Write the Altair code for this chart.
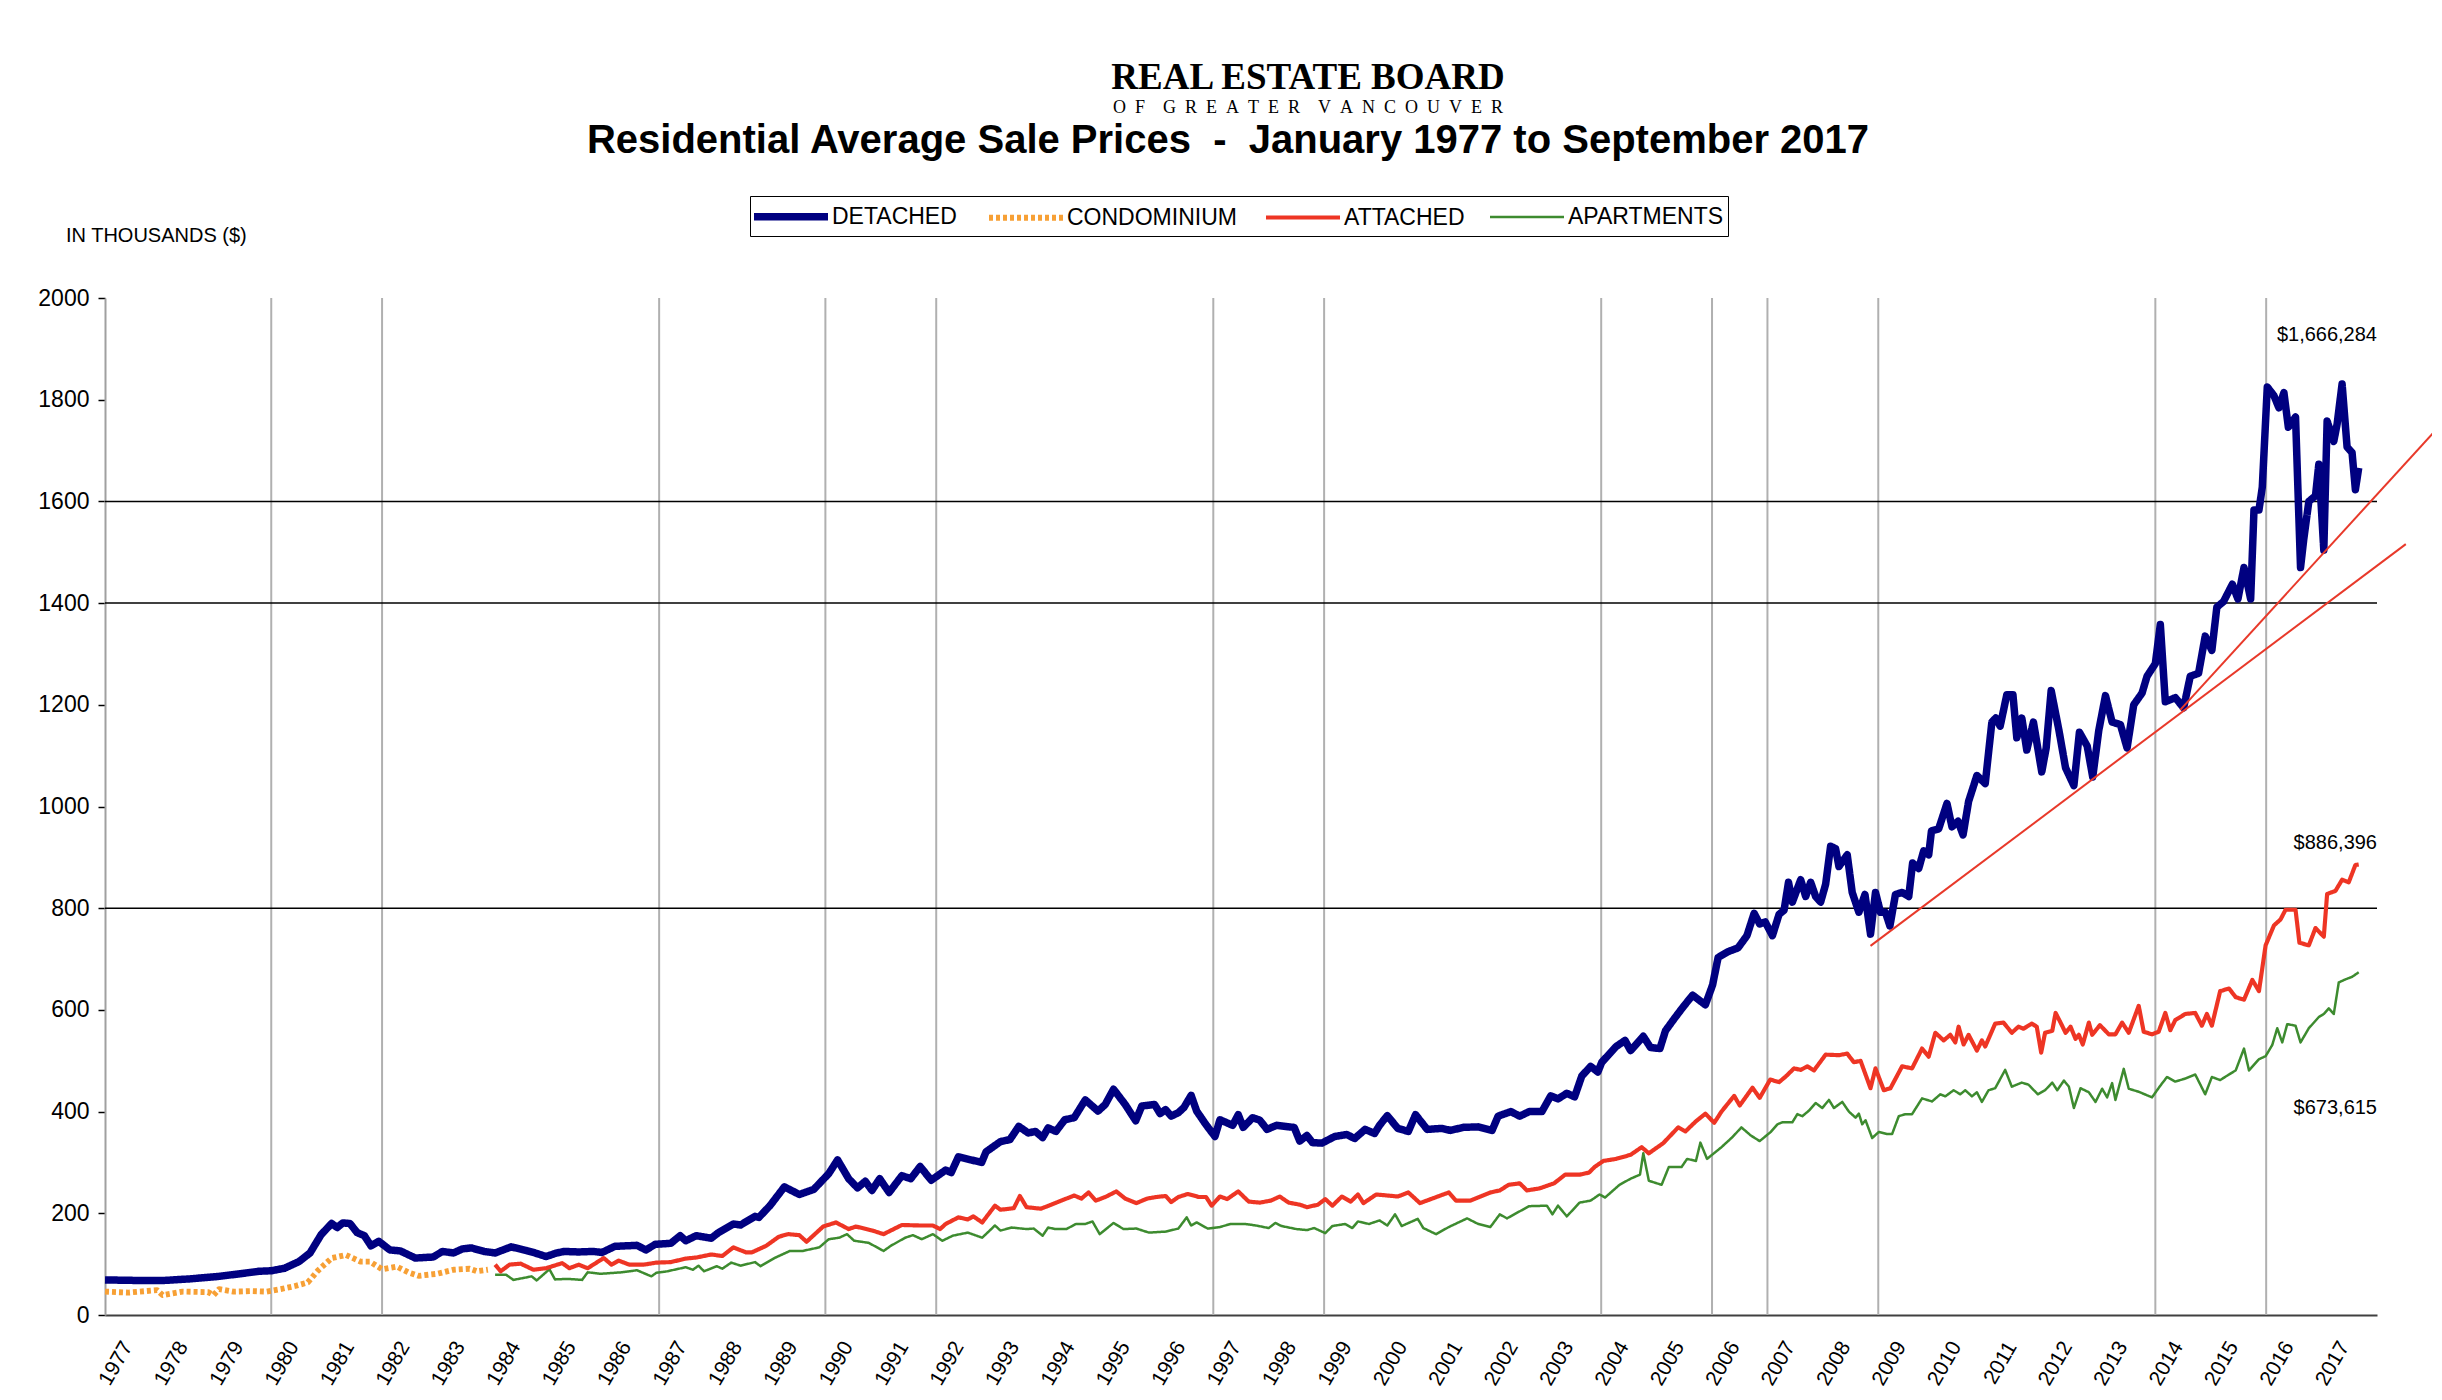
import altair as alt
import pandas as pd

# ---------------- data (thousands of $) ----------------
SERIES = ["DETACHED", "CONDOMINIUM", "ATTACHED", "APARTMENTS"]
COLORS = ["#000080", "#f7a035", "#ee3524", "#3d8b2f"]

DETACHED = [
    (1977.0, 69), (1977.55, 68), (1978.07, 68), (1978.53, 71), (1979.06, 76), (1979.5, 82),
    (1979.78, 86), (1980.0, 87), (1980.24, 92), (1980.5, 105), (1980.7, 122), (1980.9, 158),
    (1981.09, 180), (1981.19, 172), (1981.29, 181), (1981.42, 180), (1981.55, 162), (1981.68, 156),
    (1981.8, 136), (1981.94, 145), (1982.14, 128), (1982.33, 126), (1982.6, 112), (1982.92, 114),
    (1983.09, 125), (1983.29, 122), (1983.45, 130), (1983.61, 132), (1983.84, 125), (1984.04, 122),
    (1984.33, 134), (1984.6, 127), (1984.76, 122), (1984.96, 115), (1985.15, 122), (1985.29, 125),
    (1985.55, 124), (1985.81, 125), (1985.97, 123), (1986.2, 135), (1986.6, 137), (1986.76, 128),
    (1986.93, 139), (1987.21, 141), (1987.38, 156), (1987.48, 146), (1987.67, 156), (1987.94, 151),
    (1988.07, 162), (1988.34, 179), (1988.47, 177), (1988.73, 194), (1988.8, 192), (1989.0, 215),
    (1989.26, 252), (1989.53, 237), (1989.79, 247), (1990.06, 278), (1990.22, 305), (1990.42, 268),
    (1990.58, 250), (1990.72, 263), (1990.84, 245), (1990.98, 268), (1991.15, 241), (1991.38, 274),
    (1991.54, 268), (1991.71, 292), (1991.91, 265), (1992.17, 285), (1992.27, 280), (1992.4, 311),
    (1992.63, 305), (1992.82, 300), (1992.9, 321), (1993.16, 341), (1993.33, 345), (1993.49, 371),
    (1993.66, 358), (1993.79, 361), (1993.92, 349), (1994.02, 368), (1994.16, 361), (1994.32, 384),
    (1994.49, 388), (1994.69, 423), (1994.92, 401), (1995.05, 414), (1995.2, 444), (1995.41, 414),
    (1995.6, 382), (1995.71, 411), (1995.94, 414), (1996.04, 396), (1996.14, 404), (1996.24, 391),
    (1996.37, 398), (1996.47, 408), (1996.6, 432), (1996.7, 401), (1996.87, 374), (1997.03, 351),
    (1997.12, 384), (1997.35, 373), (1997.45, 394), (1997.54, 369), (1997.71, 388), (1997.84, 383),
    (1997.97, 365), (1998.14, 373), (1998.36, 370), (1998.46, 369), (1998.56, 342), (1998.69, 353),
    (1998.79, 339), (1998.96, 338), (1999.19, 351), (1999.41, 355), (1999.55, 347), (1999.74, 365),
    (1999.91, 357), (2000.0, 373), (2000.14, 392), (2000.33, 367), (2000.52, 361), (2000.65, 394),
    (2000.86, 365), (2001.12, 367), (2001.28, 363), (2001.51, 369), (2001.78, 370), (2002.03, 363),
    (2002.14, 391), (2002.37, 400), (2002.53, 391), (2002.7, 400), (2002.93, 400), (2003.09, 431),
    (2003.22, 425), (2003.38, 436), (2003.52, 429), (2003.65, 470), (2003.81, 489), (2003.94, 478),
    (2004.01, 497), (2004.27, 528), (2004.43, 540), (2004.53, 520), (2004.76, 548), (2004.89, 526),
    (2005.06, 524), (2005.16, 559), (2005.32, 583), (2005.48, 606), (2005.65, 629), (2005.88, 610),
    (2006.01, 649), (2006.11, 703), (2006.3, 715), (2006.47, 722), (2006.63, 746), (2006.76, 790),
    (2006.86, 769), (2006.96, 773), (2007.09, 746), (2007.21, 788), (2007.3, 796), (2007.38, 851),
    (2007.45, 812), (2007.6, 856), (2007.69, 823), (2007.78, 851), (2007.87, 823), (2007.96, 812),
    (2008.05, 847), (2008.14, 922), (2008.23, 917), (2008.29, 882), (2008.44, 905), (2008.53, 831),
    (2008.65, 792), (2008.76, 827), (2008.86, 749), (2008.95, 831), (2009.04, 792), (2009.13, 792),
    (2009.21, 765), (2009.31, 827), (2009.43, 831), (2009.55, 823), (2009.62, 889), (2009.73, 878),
    (2009.82, 913), (2009.91, 905), (2009.96, 952), (2010.09, 956), (2010.24, 1006), (2010.33, 960),
    (2010.44, 971), (2010.53, 944), (2010.63, 1010), (2010.78, 1061), (2010.93, 1045), (2011.05, 1166),
    (2011.12, 1174), (2011.2, 1158), (2011.32, 1220), (2011.43, 1220), (2011.5, 1135), (2011.59, 1174),
    (2011.68, 1111), (2011.8, 1166), (2011.95, 1068), (2012.03, 1115), (2012.12, 1228), (2012.26, 1150),
    (2012.38, 1076), (2012.53, 1041), (2012.63, 1146), (2012.77, 1119), (2012.87, 1058), (2012.98, 1150),
    (2013.1, 1218), (2013.22, 1166), (2013.37, 1161), (2013.49, 1115), (2013.61, 1200), (2013.76, 1223),
    (2013.85, 1256), (2014.0, 1281), (2014.09, 1358), (2014.18, 1206), (2014.36, 1214), (2014.51, 1194),
    (2014.63, 1256), (2014.78, 1262), (2014.9, 1335), (2015.02, 1307), (2015.11, 1392), (2015.23, 1403),
    (2015.39, 1437), (2015.49, 1408), (2015.6, 1470), (2015.72, 1408), (2015.78, 1583), (2015.87, 1583),
    (2015.93, 1628), (2016.02, 1825), (2016.14, 1808), (2016.23, 1784), (2016.32, 1814), (2016.4, 1746),
    (2016.53, 1766), (2016.62, 1470), (2016.68, 1527), (2016.77, 1600), (2016.89, 1611), (2016.95, 1673),
    (2017.04, 1504), (2017.1, 1758), (2017.22, 1718), (2017.28, 1752), (2017.37, 1831), (2017.46, 1707),
    (2017.55, 1696), (2017.61, 1623), (2017.67, 1666),
]

CONDOMINIUM = [
    (1977.0, 46), (1977.42, 44), (1977.94, 49), (1978.04, 39), (1978.4, 46), (1978.86, 45),
    (1978.96, 39), (1979.06, 51), (1979.32, 46), (1979.65, 47), (1979.91, 46), (1980.17, 51),
    (1980.43, 57), (1980.66, 64), (1980.83, 86), (1981.09, 112), (1981.35, 118), (1981.61, 105),
    (1981.78, 105), (1982.0, 90), (1982.27, 95), (1982.47, 84), (1982.66, 77), (1982.99, 81),
    (1983.29, 89), (1983.58, 91), (1983.71, 86), (1983.91, 89),
]

ATTACHED = [
    (1984.04, 99), (1984.14, 86), (1984.3, 99), (1984.5, 101), (1984.73, 89), (1984.96, 92),
    (1985.25, 102), (1985.38, 92), (1985.55, 99), (1985.71, 92), (1986.0, 112), (1986.14, 99),
    (1986.27, 107), (1986.46, 99), (1986.72, 99), (1986.95, 103), (1987.21, 104), (1987.48, 111),
    (1987.67, 113), (1987.94, 119), (1988.14, 116), (1988.34, 133), (1988.57, 123), (1988.67, 123),
    (1988.93, 136), (1989.16, 154), (1989.33, 159), (1989.53, 157), (1989.66, 144), (1989.96, 174),
    (1990.19, 182), (1990.42, 169), (1990.55, 174), (1990.85, 166), (1991.05, 159), (1991.38, 177),
    (1991.71, 176), (1991.94, 176), (1992.07, 169), (1992.17, 179), (1992.4, 192), (1992.57, 188),
    (1992.67, 194), (1992.83, 182), (1993.06, 215), (1993.16, 207), (1993.4, 210), (1993.51, 234),
    (1993.63, 212), (1993.89, 209), (1994.19, 222), (1994.49, 235), (1994.62, 229), (1994.75, 241),
    (1994.88, 225), (1995.05, 232), (1995.25, 243), (1995.41, 229), (1995.61, 220), (1995.81, 229),
    (1995.97, 232), (1996.14, 234), (1996.24, 222), (1996.37, 232), (1996.54, 238), (1996.74, 232),
    (1996.87, 232), (1996.97, 215), (1997.12, 233), (1997.25, 228), (1997.45, 243), (1997.64, 223),
    (1997.84, 221), (1998.04, 225), (1998.2, 233), (1998.36, 221), (1998.56, 217), (1998.69, 212),
    (1998.89, 217), (1999.02, 228), (1999.15, 215), (1999.32, 233), (1999.48, 223), (1999.61, 237),
    (1999.71, 220), (1999.94, 237), (2000.14, 235), (2000.33, 233), (2000.52, 241), (2000.73, 220),
    (2001.05, 233), (2001.25, 241), (2001.38, 225), (2001.64, 225), (2002.0, 241), (2002.17, 245),
    (2002.33, 256), (2002.53, 259), (2002.66, 245), (2002.89, 249), (2003.15, 259), (2003.35, 276),
    (2003.61, 276), (2003.78, 280), (2003.88, 291), (2004.04, 303), (2004.27, 307), (2004.53, 315),
    (2004.73, 330), (2004.86, 318), (2005.12, 338), (2005.39, 369), (2005.52, 361), (2005.71, 381),
    (2005.88, 396), (2006.04, 378), (2006.17, 400), (2006.4, 431), (2006.5, 412), (2006.73, 447),
    (2006.86, 427), (2007.05, 463), (2007.21, 458), (2007.33, 469), (2007.48, 485), (2007.6, 482),
    (2007.72, 489), (2007.84, 481), (2008.05, 512), (2008.29, 511), (2008.44, 514), (2008.56, 497),
    (2008.68, 500), (2008.86, 446), (2008.95, 485), (2009.1, 442), (2009.22, 446), (2009.43, 489),
    (2009.61, 485), (2009.79, 524), (2009.91, 508), (2010.03, 555), (2010.18, 540), (2010.3, 551),
    (2010.39, 536), (2010.45, 567), (2010.54, 532), (2010.63, 551), (2010.78, 520), (2010.87, 540),
    (2010.93, 528), (2011.11, 573), (2011.26, 575), (2011.41, 555), (2011.53, 567), (2011.62, 563),
    (2011.77, 573), (2011.86, 567), (2011.94, 516), (2012.01, 555), (2012.14, 559), (2012.2, 594),
    (2012.29, 575), (2012.38, 555), (2012.47, 567), (2012.56, 543), (2012.62, 551), (2012.69, 532),
    (2012.8, 575), (2012.86, 551), (2013.0, 570), (2013.16, 552), (2013.28, 552), (2013.4, 575),
    (2013.52, 555), (2013.7, 608), (2013.79, 557), (2013.94, 552), (2014.06, 557), (2014.18, 594),
    (2014.27, 560), (2014.36, 580), (2014.54, 592), (2014.72, 594), (2014.84, 569), (2014.93, 592),
    (2015.02, 569), (2015.17, 637), (2015.33, 642), (2015.45, 625), (2015.6, 620), (2015.75, 659),
    (2015.87, 637), (2015.99, 727), (2016.14, 766), (2016.26, 778), (2016.35, 797), (2016.53, 797),
    (2016.6, 732), (2016.77, 727), (2016.89, 761), (2017.04, 744), (2017.1, 828), (2017.25, 834),
    (2017.37, 856), (2017.49, 851), (2017.61, 885), (2017.67, 886),
]

APARTMENTS = [
    (1984.04, 79), (1984.24, 79), (1984.37, 69), (1984.7, 76), (1984.79, 68), (1985.02, 90),
    (1985.12, 70), (1985.35, 71), (1985.61, 69), (1985.71, 84), (1985.94, 81), (1986.33, 84),
    (1986.6, 88), (1986.86, 76), (1986.95, 83), (1987.15, 86), (1987.48, 94), (1987.61, 89),
    (1987.71, 97), (1987.81, 86), (1988.04, 96), (1988.14, 91), (1988.3, 103), (1988.47, 97),
    (1988.73, 104), (1988.83, 96), (1989.1, 113), (1989.36, 126), (1989.59, 126), (1989.89, 133),
    (1990.06, 149), (1990.25, 152), (1990.39, 159), (1990.52, 146), (1990.78, 142), (1991.05, 126),
    (1991.18, 136), (1991.44, 152), (1991.58, 157), (1991.74, 149), (1991.94, 159), (1992.11, 146),
    (1992.3, 156), (1992.57, 162), (1992.83, 152), (1993.06, 176), (1993.16, 166), (1993.36, 172),
    (1993.63, 169), (1993.76, 170), (1993.92, 156), (1994.02, 172), (1994.15, 169), (1994.35, 169),
    (1994.52, 179), (1994.69, 179), (1994.82, 184), (1994.95, 159), (1995.2, 181), (1995.38, 169),
    (1995.61, 170), (1995.84, 162), (1996.14, 164), (1996.37, 170), (1996.52, 192), (1996.6, 176),
    (1996.7, 182), (1996.9, 170), (1997.12, 173), (1997.31, 179), (1997.58, 179), (1997.77, 176),
    (1998.0, 171), (1998.12, 181), (1998.23, 175), (1998.5, 169), (1998.69, 167), (1998.82, 171),
    (1999.02, 161), (1999.15, 175), (1999.38, 179), (1999.51, 171), (1999.61, 184), (1999.81, 179),
    (2000.0, 186), (2000.14, 176), (2000.28, 198), (2000.4, 175), (2000.69, 189), (2000.79, 171),
    (2001.02, 159), (2001.25, 173), (2001.58, 190), (2001.78, 179), (2002.0, 173), (2002.17, 198),
    (2002.3, 190), (2002.43, 198), (2002.7, 214), (2003.02, 215), (2003.12, 198), (2003.22, 215),
    (2003.38, 194), (2003.61, 221), (2003.81, 225), (2003.97, 237), (2004.07, 231), (2004.33, 256),
    (2004.53, 268), (2004.7, 276), (2004.76, 318), (2004.86, 264), (2005.09, 256), (2005.22, 291),
    (2005.45, 291), (2005.55, 307), (2005.71, 303), (2005.79, 339), (2005.91, 307), (2006.17, 330),
    (2006.37, 350), (2006.53, 369), (2006.7, 353), (2006.86, 342), (2007.06, 360), (2007.18, 375),
    (2007.27, 379), (2007.45, 379), (2007.54, 395), (2007.63, 391), (2007.75, 402), (2007.87, 417),
    (2007.99, 407), (2008.11, 423), (2008.2, 407), (2008.35, 419), (2008.47, 400), (2008.59, 388),
    (2008.65, 396), (2008.71, 375), (2008.77, 383), (2008.89, 348), (2009.01, 360), (2009.16, 356),
    (2009.25, 356), (2009.37, 391), (2009.49, 395), (2009.61, 395), (2009.79, 426), (2009.97, 420),
    (2010.12, 434), (2010.21, 430), (2010.36, 442), (2010.48, 434), (2010.57, 442), (2010.69, 430),
    (2010.78, 438), (2010.87, 419), (2010.99, 442), (2011.11, 446), (2011.29, 482), (2011.41, 449),
    (2011.59, 457), (2011.71, 453), (2011.88, 434), (2012.01, 442), (2012.14, 457), (2012.23, 442),
    (2012.35, 461), (2012.44, 449), (2012.53, 407), (2012.65, 446), (2012.8, 438), (2012.92, 419),
    (2013.04, 445), (2013.13, 428), (2013.22, 456), (2013.28, 423), (2013.43, 484), (2013.52, 445),
    (2013.7, 439), (2013.94, 428), (2014.09, 451), (2014.21, 468), (2014.36, 459), (2014.54, 465),
    (2014.72, 473), (2014.9, 434), (2015.02, 468), (2015.17, 462), (2015.33, 473), (2015.45, 481),
    (2015.6, 524), (2015.69, 481), (2015.87, 503), (2015.99, 509), (2016.11, 531), (2016.2, 564),
    (2016.29, 536), (2016.38, 572), (2016.53, 569), (2016.62, 536), (2016.77, 564), (2016.95, 586),
    (2017.04, 592), (2017.13, 603), (2017.22, 592), (2017.31, 654), (2017.43, 660), (2017.55, 665),
    (2017.67, 674),
]

# two hand-drawn red support lines (start / end points)
TREND_LOWER = [(2008.86, 726), (2018.52, 1516)]
TREND_UPPER = [(2014.45, 1190), (2019.16, 1752)]

LATEST_LABELS = ["$1,666,284", "$886,396", "$673,615"]
YEAR_LABELS = list(range(1977, 2018))
Y_TICKS = [0, 200, 400, 600, 800, 1000, 1200, 1400, 1600, 1800, 2000]
GRID_YEARS = [1980, 1982, 1987, 1990, 1992, 1997, 1999, 2004, 2006, 2007, 2009, 2014, 2016]
GRID_VALUES = [800, 1400, 1600]

NB = "\u00a0"
EN = "\u2002"
TITLE = "Residential Average Sale Prices" + NB * 2 + "-" + NB * 2 + "January 1977 to September 2017"
LOGO_1 = "REAL ESTATE BOARD"
LOGO_2 = (EN * 2).join(EN.join(word) for word in ["OF", "GREATER", "VANCOUVER"])
UNITS = "IN THOUSANDS ($)"

# ---------------- layout / style ----------------
W, H = 2272, 1017
FONT = "Liberation Sans"
ANNOT_POS = {"year": [2018.0, 2018.0, 2018.0], "value": [1928, 928, 408]}

rows = []
for name, pts in zip(SERIES, [DETACHED, CONDOMINIUM, ATTACHED, APARTMENTS]):
    for yr, v in pts:
        rows.append({"series": name, "year": yr, "value": v})
df = pd.DataFrame(rows)

trend_rows = []
for lid, pts in [("lower", TREND_LOWER), ("upper", TREND_UPPER)]:
    for yr, v in pts:
        trend_rows.append({"line": lid, "year": yr, "value": v})
trend_df = pd.DataFrame(trend_rows)

annot_df = pd.DataFrame({"label": LATEST_LABELS, **ANNOT_POS})

x_enc = alt.X(
    "year:Q",
    scale=alt.Scale(domain=[1977, 2018], nice=False, zero=False),
    axis=alt.Axis(
        values=[y + 0.5 for y in YEAR_LABELS],
        labelExpr="floor(datum.value) + ''",
        labelAngle=-60, labelAlign="right", labelBaseline="alphabetic",
        labelFontSize=21, labelPadding=31, labelFont=FONT, labelColor="black",
        labelOverlap=False, labelFlush=False,
        ticks=False, grid=False, domainColor="#404040", domainWidth=2, title=None,
    ),
)
y_enc = alt.Y(
    "value:Q",
    scale=alt.Scale(domain=[0, 2000], nice=False),
    axis=alt.Axis(
        values=Y_TICKS, format="d", grid=False,
        domainColor="#a0a0a0", domainWidth=2,
        tickColor="black", tickSize=7, tickWidth=1.5,
        labelFontSize=23, labelPadding=9, labelFont=FONT, labelColor="black", title=None,
    ),
)

leg = alt.Legend(
    title=None, orient="none", legendX=645, legendY=-102, direction="horizontal", columns=4,
    symbolType="M-1.32,0H4.6", symbolSize=625, labelOffset=45,
    columnPadding=20, padding=4, strokeColor="black", fillColor="white",
    labelFont=FONT, labelFontSize=23, labelColor="black", labelLimit=0,
)
color_scale = alt.Scale(domain=SERIES, range=COLORS)
width_scale = alt.Scale(domain=SERIES, range=[7.5, 2.5, 5, 2.5])
dash_scale = alt.Scale(domain=SERIES, range=[[1, 0], [4, 3], [1, 0], [1, 0]])


def series_layer(name):
    return (
        alt.Chart(df)
        .transform_filter(alt.datum.series == name)
        .mark_line(strokeJoin="round")
        .encode(
            x=x_enc,
            y=y_enc,
            color=alt.Color("series:N", scale=color_scale, legend=leg),
            strokeWidth=alt.StrokeWidth("series:N", scale=width_scale, legend=leg),
            strokeDash=alt.StrokeDash("series:N", scale=dash_scale, legend=leg),
        )
    )


vgrid = alt.Chart(pd.DataFrame({"year": GRID_YEARS})).mark_rule(color="#b0b0b0", strokeWidth=2).encode(
    x=x_enc, y=alt.datum(0), y2=alt.datum(2000)
)
hgrid = alt.Chart(pd.DataFrame({"value": GRID_VALUES})).mark_rule(color="black", strokeWidth=1.5).encode(y=y_enc)

trends = alt.Chart(trend_df).mark_line(color="#e8392a", strokeWidth=2).encode(x=x_enc, y=y_enc, detail="line:N")

annots = alt.Chart(annot_df).mark_text(
    align="right", baseline="middle", font=FONT, fontSize=20, color="black"
).encode(x=x_enc, y=y_enc, text="label:N")


def header_text(txt, px, py, **kw):
    return alt.Chart(pd.DataFrame({"t": [txt]})).mark_text(baseline="middle", **kw).encode(
        text="t:N", x=alt.value(px), y=alt.value(py)
    )


title_t = header_text(TITLE, 1123, -157, font=FONT, fontSize=40, fontWeight="bold", align="center", color="black")
logo1_t = header_text(LOGO_1, 1203, -220, font="Liberation Serif", fontSize=37, fontWeight="bold", align="center", color="black")
logo2_t = header_text(LOGO_2, 1203, -190, font="Liberation Serif", fontSize=18, align="center", color="black")
units_t = header_text(UNITS, -39, -62, font=FONT, fontSize=20, align="left", color="black")

chart = (
    alt.layer(
        vgrid, hgrid,
        series_layer("APARTMENTS"), series_layer("ATTACHED"),
        series_layer("CONDOMINIUM"), series_layer("DETACHED"),
        trends, annots, title_t, logo1_t, logo2_t, units_t,
    )
    .properties(
        width=W, height=H,
        padding={"left": 97, "top": 290, "right": 55, "bottom": 76},
        autosize=alt.AutoSizeParams(type="none"),
        background="white",
    )
    .configure_view(stroke="transparent")
)

chart.save("out.html", embed_options={"renderer": "svg", "actions": False})
